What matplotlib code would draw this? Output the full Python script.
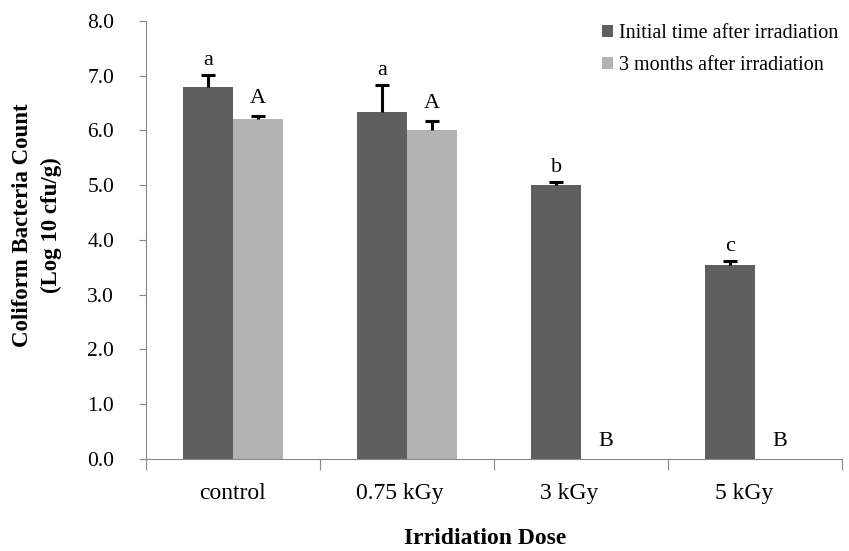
import matplotlib.pyplot as plt
import numpy as np

plt.rcParams['font.family'] = ['Liberation Serif', 'DejaVu Serif']

doses = ['control', '0.75 kGy', '3 kGy', '5 kGy']
initial = [6.79, 6.33, 5.00, 3.55]
initial_err = [0.22, 0.50, 0.05, 0.06]
three_months = [6.20, 6.00, 0.0, 0.0]
three_months_err = [0.06, 0.17, 0.0, 0.0]
letters_initial = ['a', 'a', 'b', 'c']
letters_three = ['A', 'A', 'B', 'B']

dark = '#5f5f5f'
light = '#b3b3b3'

fig = plt.figure(figsize=(8.49, 5.51), dpi=100)
ax = fig.add_axes([0.172, 0.167, 0.82, 0.795])

x = np.arange(len(doses))
w = 0.287
cap = 0.04


def upper_err(xs, tops, errs):
    # Excel-style "plus" error bars: stem and cap above the bar only
    for xi, t, e in zip(xs, tops, errs):
        if e <= 0:
            continue
        ax.vlines(xi, t, t + e, color='black', lw=2.2, zorder=3)
        ax.hlines(t + e, xi - cap, xi + cap, color='black', lw=2.2, zorder=3)


ax.bar(x - w / 2, initial, w, color=dark, label='Initial time after irradiation')
ax.bar(x + w / 2, three_months, w, color=light, label='3 months after irradiation')
upper_err(x - w / 2, initial, initial_err)
upper_err(x + w / 2, three_months, three_months_err)

for i in range(len(doses)):
    ax.text(x[i] - w / 2, initial[i] + initial_err[i] + 0.1, letters_initial[i],
            ha='center', va='bottom', fontsize=16)
    ax.text(x[i] + w / 2, three_months[i] + three_months_err[i] + 0.15, letters_three[i],
            ha='center', va='bottom', fontsize=16)

ax.set_xlim(-0.5, 3.5)
ax.set_ylim(0, 8)
yt = np.arange(0, 8.1, 1.0)
ax.set_yticks(yt)
ax.set_yticklabels([f'{v:.1f}' for v in yt], fontsize=15.5)
ax.tick_params(axis='y', direction='out', length=5, color='#888888', pad=18)

# category boundaries carry the tick marks, labels sit near the centres
ax.set_xticks(np.arange(-0.5, 3.6, 1.0))
ax.set_xticklabels([])
ax.tick_params(axis='x', which='major', direction='out', length=8, color='#888888')
ax.set_xticks(x + np.array([-0.005, -0.04, -0.07, -0.065]), minor=True)
ax.set_xticklabels(doses, minor=True, fontsize=17)
ax.tick_params(axis='x', which='minor', length=0, pad=17)

for s in ['top', 'right']:
    ax.spines[s].set_visible(False)
for s in ['left', 'bottom']:
    ax.spines[s].set_color('#888888')

fig.text(37 / 849, 1 - 225 / 551, 'Coliform Bacteria Count\n(Log 10 cfu/g)',
         rotation=90, ha='center', va='center', fontsize=16.5, fontweight='bold',
         linespacing=1.45)
fig.text(485 / 849, 1 - 538 / 551, 'Irridiation Dose', ha='center', va='center',
         fontsize=17, fontweight='bold')

ax.legend(loc='upper right', bbox_to_anchor=(1.02, 1.035), frameon=False, fontsize=14.5,
          handlelength=0.55, handleheight=0.55, handletextpad=0.3, labelspacing=0.65)

fig.savefig('out.png', dpi=100)
